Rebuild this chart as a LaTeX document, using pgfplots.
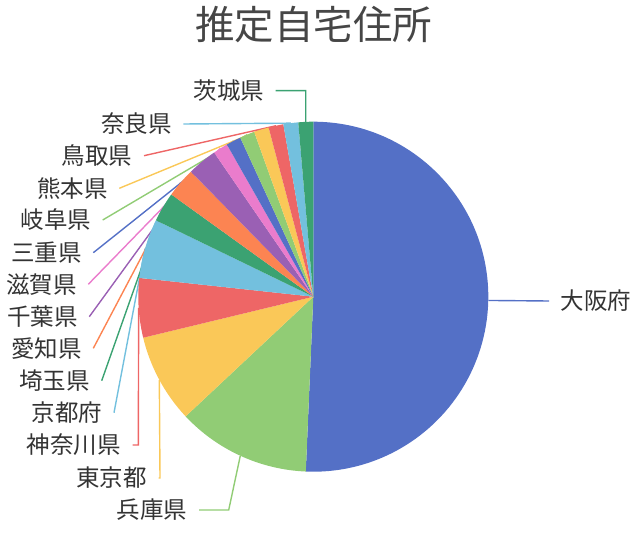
\documentclass[border=0pt]{standalone}
\usepackage{fontspec}
\setmainfont{Noto Sans CJK JP}
\usepackage{pgfplots}
\usepackage{pgfplotstable}
\pgfplotsset{compat=1.18}

\definecolor{c0}{HTML}{5470C6}
\definecolor{c1}{HTML}{91CC75}
\definecolor{c2}{HTML}{FAC858}
\definecolor{c3}{HTML}{EE6666}
\definecolor{c4}{HTML}{73C0DE}
\definecolor{c5}{HTML}{3BA272}
\definecolor{c6}{HTML}{FC8452}
\definecolor{c7}{HTML}{9A60B4}
\definecolor{c8}{HTML}{EA7CCC}
\definecolor{txt}{HTML}{333333}
\definecolor{ttl}{HTML}{464646}

% value = count; bx/by = bend of leader line, ex/ey = end of line (pixels, y down)
\pgfplotstableread{
name     value bx    by    ex    ey    anc  dx
大阪府   37    549   301   549   301   west 11.5
兵庫県   9     228.7 510   199   510   east -11.5
東京都   6     160   478   158.5 478   east -11.5
神奈川県 4     138.3 445   132.5 445   east -11.5
京都府   4     114   412.7 114   412.7 east -11.5
埼玉県   2     101.7 380.7 101.7 380.7 east -11.5
愛知県   2     93.3  348.3 93.3  348.3 east -11.5
千葉県   2     89.3  316.7 89.3  316.7 east -11.5
滋賀県   1     88.3  284.3 88.3  284.3 east -11.5
三重県   1     93.3  252.7 93.3  252.7 east -11.5
岐阜県   1     102.7 220   102.7 220   east -11.5
熊本県   1     119.3 188.3 119.3 188.3 east -11.5
鳥取県   1     144   155.7 144   155.7 east -11.5
奈良県   1     183.3 124   183.3 124   east -11.5
茨城県   1     305.7 90.7  275.7 90.7  east -11.5
}\pref

\def\cx{313.3}
\def\cy{296.7}
\def\rad{175pt}

\begin{document}
\begin{tikzpicture}
\begin{axis}[
    width=642pt, height=540pt, scale only axis,
    xmin=0, xmax=642, ymin=0, ymax=540, y dir=reverse,
    hide axis, clip=false,
]
\pgfplotsextra{
  \path (axis cs:0,0) rectangle (axis cs:642,540);
  \pgfplotstablegetrowsof{\pref}
  \pgfmathtruncatemacro\nrows{\pgfplotsretval-1}
  \def\total{0}
  \pgfplotsforeachungrouped \i in {0,...,\nrows}{%
    \pgfplotstablegetelem{\i}{value}\of\pref
    \pgfmathsetmacro\total{\total+\pgfplotsretval}%
  }
  % leader lines (under the slices)
  \def\cum{0}
  \pgfplotsforeachungrouped \i in {0,...,\nrows}{%
    \pgfplotstablegetelem{\i}{value}\of\pref \let\val\pgfplotsretval
    \pgfmathsetmacro\midang{90-(\cum+\val/2)/\total*360}%
    \pgfmathsetmacro\cum{\cum+\val}%
    \pgfplotstablegetelem{\i}{bx}\of\pref \let\bx\pgfplotsretval
    \pgfplotstablegetelem{\i}{by}\of\pref \let\by\pgfplotsretval
    \pgfplotstablegetelem{\i}{ex}\of\pref \let\ex\pgfplotsretval
    \pgfplotstablegetelem{\i}{ey}\of\pref \let\ey\pgfplotsretval
    \pgfmathtruncatemacro\ci{mod(\i,9)}%
    \draw[c\ci, line width=1.4pt] (axis cs:\cx,\cy) ++(\midang:\rad)
      -- (axis cs:\bx,\by) -- (axis cs:\ex,\ey);
  }
  % slices
  \def\cum{0}
  \pgfplotsforeachungrouped \i in {0,...,\nrows}{%
    \pgfplotstablegetelem{\i}{value}\of\pref \let\val\pgfplotsretval
    \pgfmathsetmacro\aone{90-\cum/\total*360}%
    \pgfmathsetmacro\atwo{90-(\cum+\val)/\total*360}%
    \pgfmathsetmacro\cum{\cum+\val}%
    \pgfmathtruncatemacro\ci{mod(\i,9)}%
    \fill[c\ci] (axis cs:\cx,\cy) -- ++(\aone:\rad)
      arc[start angle=\aone, end angle=\atwo, radius=\rad] -- cycle;
  }
  % labels
  \pgfplotsforeachungrouped \i in {0,...,\nrows}{%
    \pgfplotstablegetelem{\i}{name}\of\pref \let\nm\pgfplotsretval
    \pgfplotstablegetelem{\i}{ex}\of\pref \let\ex\pgfplotsretval
    \pgfplotstablegetelem{\i}{ey}\of\pref \let\ey\pgfplotsretval
    \pgfplotstablegetelem{\i}{anc}\of\pref \let\anc\pgfplotsretval
    \pgfplotstablegetelem{\i}{dx}\of\pref \let\ddx\pgfplotsretval
    \node[anchor=\anc, inner sep=0pt, text=txt, font=\fontsize{23.5}{24}\selectfont]
      at ([xshift=\ddx pt]axis cs:\ex,\ey) {\nm};
  }
  \node[text=ttl, inner sep=0pt, font=\fontsize{39.5}{40}\selectfont]
    at (axis cs:313.5,25) {推定自宅住所};
}
\end{axis}
\end{tikzpicture}
\end{document}
